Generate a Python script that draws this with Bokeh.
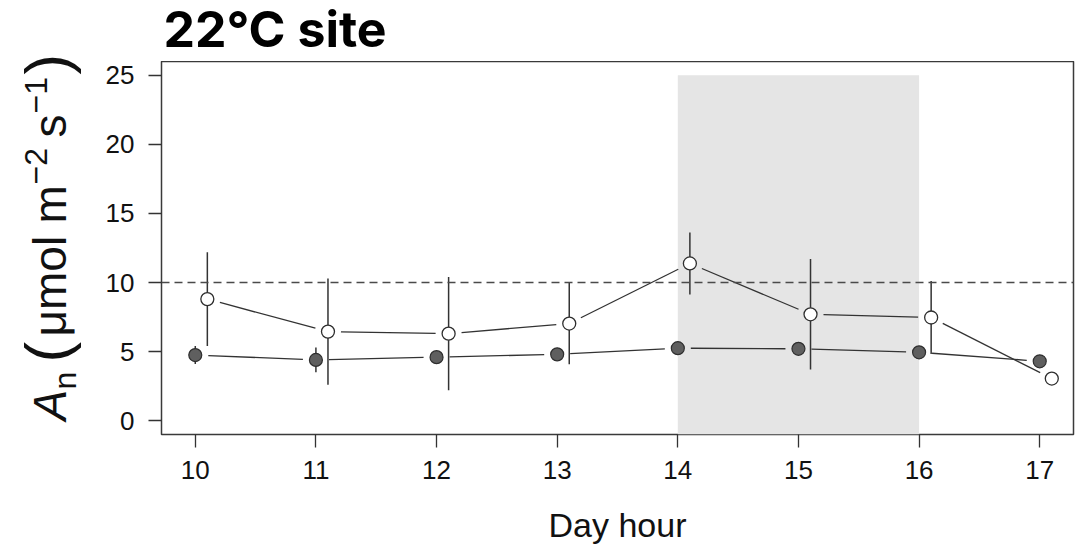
import math
from bokeh.plotting import figure
from bokeh.models import Span, FixedTicker, Range1d
from bokeh.layouts import row, column
from bokeh.core.properties import value
from bokeh.embed import file_html
from bokeh.resources import INLINE

# ---------------- data ----------------
hours = [10, 11, 12, 13, 14, 15, 16, 17]
open_offset = 0.1
filled_mean = [4.75, 4.4, 4.6, 4.8, 5.25, 5.2, 4.95, 4.3]
filled_se = [0.65, 0.9, 0.3, 0.3, 0.3, 0.3, 0.3, 0.3]
open_mean = [8.8, 6.45, 6.3, 7.03, 11.38, 7.7, 7.47, 3.05]
open_se = [3.4, 3.85, 4.1, 2.95, 2.25, 4.0, 2.65, 0.3]
shade_start = [14]
shade_end = [16]
shade_top = [25]
ref_level = 10
y_ticks = [0, 5, 10, 15, 20, 25]
x_ticks = hours
title_text = "22°C site"
x_label = "Day hour"

# ---------------- layout ----------------
W, H = 1081, 547
LW = 90                 # width of the y-label strip
TH = 61                 # height of the title strip
L, R, B = 161, 8, 113
MW = W - LW
MH = H - TH
x0, x1 = 9.72, 17.28
y0, y1 = -1.0, 26.0
fw, fh = W - L - R, MH - B
ppx = fw / (x1 - x0)
ppy = fh / (y1 - y0)
BL = 0.4   # baseline correction (fraction of font size) for text glyphs

def blank(w, h, xr, yr, bl=0, br=0):
    f = figure(width=w, height=h, output_backend="svg", toolbar_location=None,
               x_range=Range1d(*xr), y_range=Range1d(*yr),
               x_axis_type=None, y_axis_type=None,
               min_border=0, min_border_left=bl, min_border_right=br,
               min_border_top=0, min_border_bottom=0,
               background_fill_color="white", border_fill_color="white")
    f.grid.visible = False
    f.outline_line_color = None
    return f

# ---------------- main plot ----------------
p = figure(width=MW, height=MH, output_backend="svg", toolbar_location=None,
           x_range=Range1d(x0, x1), y_range=Range1d(y0, y1),
           min_border_left=L - LW, min_border_right=R, min_border_top=0, min_border_bottom=B,
           background_fill_color="white", border_fill_color="white")
p.grid.visible = False
p.outline_line_color = "#3a3a3a"
p.outline_line_width = 1.5

ink = "#333333"
for ax in (p.xaxis[0], p.yaxis[0]):
    ax.axis_line_color = None
    ax.major_tick_line_color = ink
    ax.major_tick_line_width = 1.3
    ax.major_tick_out = 13
    ax.major_tick_in = 0
    ax.minor_tick_line_color = None
    ax.major_label_text_font = "Liberation Sans"
    ax.major_label_text_font_size = "26px"
    ax.major_label_text_color = "#111111"

p.xaxis.ticker = FixedTicker(ticks=x_ticks)
p.yaxis.ticker = FixedTicker(ticks=y_ticks)
p.xaxis.major_label_standoff = 13
p.yaxis.major_label_standoff = 14
p.xaxis.axis_label = x_label
p.xaxis.axis_label_text_font = "Liberation Sans"
p.xaxis.axis_label_text_font_size = "34px"
p.xaxis.axis_label_text_font_style = "normal"
p.xaxis.axis_label_text_color = "#111111"
p.xaxis.axis_label_standoff = 24

# shaded window
p.quad(left=shade_start, right=shade_end, bottom=[y0], top=shade_top,
       fill_color="#e5e5e5", line_color=None)

# reference line
p.add_layout(Span(location=ref_level, dimension="width", line_color="#4a4a4a",
                  line_width=1.5, line_dash="8 5"))

# connecting lines with gaps around points (like R type="b")
gap = 13.0

def gapped(xs, ys):
    sx0, sy0, sx1, sy1 = [], [], [], []
    for i in range(len(xs) - 1):
        dx = (xs[i + 1] - xs[i]) * ppx
        dy = (ys[i + 1] - ys[i]) * ppy
        d = math.hypot(dx, dy)
        if d <= 2 * gap:
            continue
        ux, uy = dx / d, dy / d
        sx0.append(xs[i] + ux * gap / ppx)
        sy0.append(ys[i] + uy * gap / ppy)
        sx1.append(xs[i + 1] - ux * gap / ppx)
        sy1.append(ys[i + 1] - uy * gap / ppy)
    return sx0, sy0, sx1, sy1

open_x = [h + open_offset for h in hours]
for xs, ys in ((hours, filled_mean), (open_x, open_mean)):
    a, b, c, d = gapped(xs, ys)
    p.segment(x0=a, y0=b, x1=c, y1=d, line_color=ink, line_width=1.3)

# error bars
p.segment(x0=open_x, x1=open_x,
          y0=[m - s for m, s in zip(open_mean, open_se)],
          y1=[m + s for m, s in zip(open_mean, open_se)],
          line_color=ink, line_width=1.5)
p.segment(x0=hours, x1=hours,
          y0=[m - s for m, s in zip(filled_mean, filled_se)],
          y1=[m + s for m, s in zip(filled_mean, filled_se)],
          line_color=ink, line_width=1.5)

# points
p.scatter(hours, filled_mean, size=13, fill_color="#5f5f5f", line_color="#2e2e2e", line_width=1.2)
p.scatter(open_x, open_mean, size=13, fill_color="white", line_color="#2e2e2e", line_width=1.3)

# ---------------- title strip (coordinates = page pixels) ----------------
top = blank(MW, TH, (L, W - R), (TH, 0), bl=L - LW, br=R)
TS = 50
top.text(x=[163], y=[48.8 - BL * TS], text=[title_text], text_font=value("Inter"),
         text_font_style="bold", text_font_size=f"{TS}px", text_color="black",
         text_align="left", text_baseline="alphabetic")

# ---------------- y-label strip (coordinates = page pixels) ----------------
left = blank(LW, H, (0, LW), (H, 0))
F, S, PF = 46, 32, 62
base, sub_base, sup_base = 68, 77, 48
Y0 = 420
pieces = [
    ("A", F, 0, base, "italic"),
    ("n", S, 31, sub_base, "normal"),
    ("(", PF, 58, base + 3, "normal"),
    ("μmol", F, 84, base, "normal"),
    ("m", F, 197, base, "normal"),
    ("−2", S, 236, sup_base, "normal"),
    ("s", F, 283, base, "normal"),
    ("−1", S, 307, sup_base, "normal"),
    (")", PF, 346, base + 3, "normal"),
]
for txt, size, along, bx, style in pieces:
    left.text(x=[bx - BL * size], y=[Y0 - along], text=[txt], text_font=value("Liberation Sans"),
              text_font_size=f"{size}px", text_font_style=style, text_color="#111111",
              angle=math.pi / 2, text_align="left", text_baseline="alphabetic")

layout = row(left, column(top, p, spacing=0), spacing=0)
open("out.html", "w").write(file_html(layout, INLINE))
